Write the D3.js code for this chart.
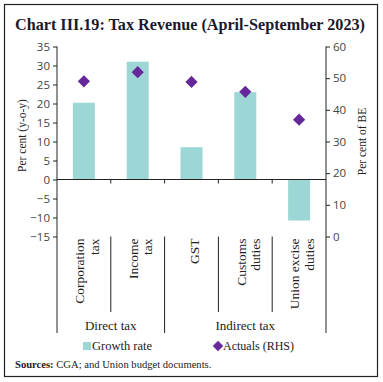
<!DOCTYPE html>
<html><head><meta charset="utf-8">
<script src="https://cdn.jsdelivr.net/npm/d3@7/dist/d3.min.js"></script>
<style>body{margin:0;background:#fff}svg{display:block}</style>
</head><body>
<script>
const categories = [["Corporation","tax"],["Income","tax"],["GST"],["Customs","duties"],["Union excise","duties"]];
const catKeys = ["Corporation tax","Income tax","GST","Customs duties","Union excise duties"];
const growthRate = [20.2, 31.0, 8.5, 23.0, -10.8];
const actuals = [49.0, 51.9, 48.8, 45.7, 36.9];
const groups = [{name:"Direct tax", from:0, to:1},{name:"Indirect tax", from:2, to:4}];
const leftTicks = [35,30,25,20,15,10,5,0,-5,-10,-15];
const rightTicks = [60,50,40,30,20,10,0];

const W=383,H=382;
const svg=d3.select("body").append("svg").attr("width",W).attr("height",H);
const serif="'Liberation Serif', serif";
const sans="'Open Sans', sans-serif";

svg.append("rect").attr("x",4.5).attr("y",4.5).attr("width",373).attr("height",372)
  .attr("fill","none").attr("stroke","#222").attr("stroke-width",1.2);

svg.append("text").attr("x",190).attr("y",30).attr("text-anchor","middle")
  .attr("font-family",serif).attr("font-weight","bold").attr("font-size",16.3)
  .attr("textLength",350).attr("lengthAdjust","spacingAndGlyphs")
  .attr("fill","#1a1a2e").text("Chart III.19: Tax Revenue (April-September 2023)");

const x0=57,x1=326,yTop=46.5,yBot=236.5;
const x=d3.scaleBand().domain(catKeys).range([x0,x1]).paddingInner(0).paddingOuter(0);
const yL=d3.scaleLinear().domain([-15,35]).range([yBot,yTop]);
const yR=d3.scaleLinear().domain([0,60]).range([yBot,yTop]);

// bars
svg.append("g").selectAll("rect").data(growthRate).join("rect")
  .attr("x",(d,i)=>x(catKeys[i])+x.bandwidth()/2-11)
  .attr("width",22)
  .attr("y",d=>yL(Math.max(0,d)))
  .attr("height",d=>Math.abs(yL(d)-yL(0)))
  .attr("fill","#9dd7d5");

// axes
const axL=d3.axisLeft(yL).tickValues(leftTicks).tickSize(4).tickPadding(3);
const gL=svg.append("g").attr("transform",`translate(${x0},0)`).call(axL);
const axR=d3.axisRight(yR).tickValues(rightTicks).tickSize(4).tickPadding(3);
const gR=svg.append("g").attr("transform",`translate(${x1},0)`).call(axR);
[gL,gR].forEach(g=>{
  g.select(".domain").remove();
  g.selectAll("text").attr("font-family",sans).attr("font-size",11.5).attr("fill","#444");
  g.selectAll("line").attr("stroke","#222");
});
svg.append("line").attr("x1",x0).attr("x2",x0).attr("y1",yTop).attr("y2",333).attr("stroke","#222");
svg.append("line").attr("x1",x1).attr("x2",x1).attr("y1",yTop).attr("y2",333).attr("stroke","#222");

// zero line
svg.append("line").attr("x1",x0).attr("x2",x1).attr("y1",yL(0)).attr("y2",yL(0)).attr("stroke","#222");
catKeys.slice(1).forEach(k=>{
  svg.append("line").attr("x1",x(k)).attr("x2",x(k)).attr("y1",yL(0)).attr("y2",yL(0)+4).attr("stroke","#222");
});

// dividers in category area
catKeys.slice(1).forEach((k,i)=>{
  const idx=i+1;
  const isGroupEdge = groups.some(g=>g.from===idx);
  svg.append("line").attr("x1",x(k)).attr("x2",x(k)).attr("y1",yBot).attr("y2",isGroupEdge?333:312).attr("stroke","#222");
});

// diamonds
const diamond=d3.symbol().type(d3.symbolDiamond2).size(95);
svg.append("g").selectAll("path").data(actuals).join("path")
  .attr("d",diamond)
  .attr("transform",(d,i)=>`translate(${x(catKeys[i])+x.bandwidth()/2},${yR(d)})`)
  .attr("fill","#66279a");

// category labels (rotated)
const catFs=13.5;
categories.forEach((lines,i)=>{
  const cx=x(catKeys[i])+x.bandwidth()/2;
  const n=lines.length, lh=14.5;
  lines.forEach((t,j)=>{
    const lx=cx+(j-(n-1)/2)*lh+7.5;
    svg.append("text").attr("transform",`translate(${lx},${yBot+2}) rotate(-90)`)
      .attr("text-anchor","end").attr("font-family",serif).attr("font-size",catFs)
      .attr("fill","#222").text(t);
  });
});

// group labels
groups.forEach(g=>{
  const gx=(x(catKeys[g.from])+x(catKeys[g.to])+x.bandwidth())/2;
  svg.append("text").attr("x",gx).attr("y",330).attr("text-anchor","middle")
    .attr("font-family",serif).attr("font-size",13).attr("fill","#222").text(g.name);
});

// axis titles
svg.append("text").attr("transform",`translate(26,${(yTop+yBot)/2-6}) rotate(-90)`)
  .attr("text-anchor","middle").attr("font-family",serif).attr("font-size",11.5).attr("fill","#222")
  .text("Per cent (y-o-y)");
svg.append("text").attr("transform",`translate(366,${(yTop+yBot)/2}) rotate(-90)`)
  .attr("text-anchor","middle").attr("font-family",serif).attr("font-size",11.5).attr("fill","#222")
  .text("Per cent of BE");

// legend
svg.append("rect").attr("x",83).attr("y",342).attr("width",8).attr("height",8).attr("fill","#9dd7d5");
svg.append("text").attr("x",92).attr("y",350).attr("font-family",serif).attr("font-size",12.5).attr("fill","#222").text("Growth rate");
svg.append("path").attr("d",d3.symbol().type(d3.symbolDiamond2).size(70)).attr("transform","translate(218,346)").attr("fill","#66279a");
svg.append("text").attr("x",223).attr("y",350).attr("font-family",serif).attr("font-size",12).attr("fill","#222").text("Actuals (RHS)");

// sources
const src=svg.append("text").attr("x",15).attr("y",368).attr("font-family",serif).attr("font-size",10.6).attr("fill","#222");
src.append("tspan").attr("font-weight","bold").text("Sources:");
src.append("tspan").text(" CGA; and Union budget documents.");
</script>
</body></html>
